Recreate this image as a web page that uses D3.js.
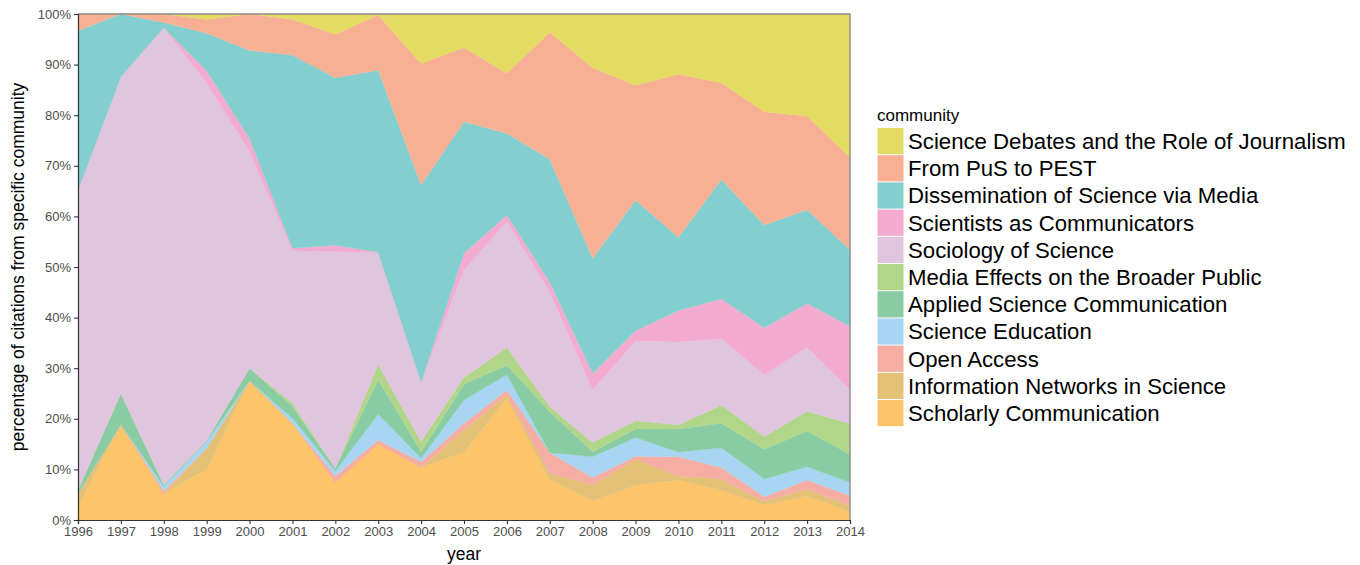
<!DOCTYPE html>
<html>
<head>
<meta charset="utf-8">
<script src="https://cdn.jsdelivr.net/npm/d3@7"></script>
<style>
  body { margin: 0; background: #fff; }
  svg { display: block; font-family: "Liberation Sans", Arial, sans-serif; }
</style>
</head>
<body>
<svg id="chart" width="1360" height="565"></svg>
<script>
// ---- data (percent of citations per community, per year) ----
const years = [1996,1997,1998,1999,2000,2001,2002,2003,2004,2005,2006,2007,2008,2009,2010,2011,2012,2013,2014];
const scholarlyCommunication = [2.6,18.9,5.2,10.0,27.5,19.1,7.4,15.0,10.4,13.4,24.0,8.0,3.8,6.8,7.9,5.9,3.0,4.7,1.6];
const informationNetworks    = [2.7,0,0,4.2,0,0,0,0,0,4.4,0.7,1.2,3.1,5.2,0.8,2.2,0.7,1.4,1.2];
const openAccess             = [0,0,0.6,0,0,0,1.3,0.8,1.1,1.3,1.0,4.1,1.5,0.6,3.8,2.3,0.9,1.8,2.0];
const scienceEducation       = [0,0,0.8,1.3,0,1.0,1.0,5.1,0.7,4.6,3.0,0,4.1,3.7,0.9,3.9,3.5,2.6,2.6];
const appliedSciComm         = [0.6,6.1,0.3,0.2,2.5,2.3,0.5,6.8,1.3,3.2,1.9,8.1,1.0,1.7,4.6,4.8,5.9,7.1,5.6];
const mediaEffects           = [0,0,0,0,0,0.7,0,3.1,2.0,1.3,3.5,1.0,1.8,1.6,0.8,3.6,2.5,3.9,6.0];
const sociologyOfScience     = [59.3,62.6,90.4,70.6,42.8,30.1,42.8,22.1,11.8,21.2,24.9,22.6,10.4,15.8,16.4,13.1,12.2,12.6,6.7];
const scientistsAsComm       = [0,0,0,2.5,2.6,0.5,1.3,0,0,3.3,1.3,2.0,3.3,2.0,6.2,7.9,9.3,8.7,12.6];
const disseminationMedia     = [31.5,12.4,1.0,7.4,17.4,38.2,33.1,36.0,38.9,26.0,16.1,24.3,22.7,25.8,14.5,23.6,20.3,18.5,15.1];
const pusToPest              = [3.3,0,1.7,2.7,7.2,7.0,8.6,10.9,24.0,14.7,11.9,25.1,37.7,22.7,32.2,19.1,22.4,18.5,18.3];
const scienceDebates         = [0,0,0,1.1,0,1.1,4.0,0.2,9.8,6.6,11.7,3.6,10.6,14.1,11.9,13.6,19.3,20.2,28.3];

// bottom-to-top stacking order
const communities = [
  "Scholarly Communication",
  "Information Networks in Science",
  "Open Access",
  "Science Education",
  "Applied Science Communication",
  "Media Effects on the Broader Public",
  "Sociology of Science",
  "Scientists as Communicators",
  "Dissemination of Science via Media",
  "From PuS to PEST",
  "Science Debates and the Role of Journalism"
];
const seriesValues = [scholarlyCommunication, informationNetworks, openAccess, scienceEducation,
  appliedSciComm, mediaEffects, sociologyOfScience, scientistsAsComm, disseminationMedia,
  pusToPest, scienceDebates];
const colors = ["#FDC46A","#E3C177","#F6ADA4","#A7D5F2","#89CCA4","#B1D589","#E0C5DE","#F3ACCF","#83CFCF","#F8B094","#E3DB62"];
const yTicks = [0,0.1,0.2,0.3,0.4,0.5,0.6,0.7,0.8,0.9,1.0];

// ---- build table ----
const table = years.map((y, i) => {
  const row = { year: y };
  communities.forEach((c, k) => row[c] = seriesValues[k][i]);
  return row;
});

const svg = d3.select("#chart");
const m = { left: 78, right: 850, top: 14, bottom: 520 };

const x = d3.scaleLinear().domain([1996, 2014]).range([m.left, m.right]);
const y = d3.scaleLinear().domain([0, 1]).range([m.bottom, m.top]);
const color = d3.scaleOrdinal().domain(communities).range(colors);

const stack = d3.stack().keys(communities).offset(d3.stackOffsetExpand);
const layers = stack(table);

const area = d3.area()
  .x(d => x(d.data.year))
  .y0(d => y(d[0]))
  .y1(d => y(d[1]));

svg.append("g").selectAll("path")
  .data(layers)
  .join("path")
  .attr("d", area)
  .attr("fill", d => color(d.key))
  .attr("stroke", d => color(d.key))
  .attr("stroke-width", 0.3);

// panel border (top/right gray)
svg.append("path")
  .attr("d", `M${m.left},${m.top}H${m.right}V${m.bottom}`)
  .attr("fill", "none").attr("stroke", "#8c8c8c").attr("stroke-width", 1.4);

// axes
const yAxis = d3.axisLeft(y).tickValues(yTicks).tickFormat(d3.format(".0%")).tickSize(4).tickPadding(3);
const xAxis = d3.axisBottom(x).tickValues(years).tickFormat(d3.format("d")).tickSize(4).tickPadding(3);

const gy = svg.append("g").attr("transform", `translate(${m.left},0)`).call(yAxis);
const gx = svg.append("g").attr("transform", `translate(0,${m.bottom})`).call(xAxis);
[gy, gx].forEach(g => {
  g.select(".domain").attr("stroke", "#333").attr("stroke-width", 1.2);
  g.selectAll(".tick line").attr("stroke", "#333").attr("stroke-width", 1.1);
  g.selectAll(".tick text").attr("fill", "#4D4D4D").style("font-size", "13px").style("font-family", "Liberation Sans, Arial, sans-serif");
});

// axis titles
svg.append("text")
  .attr("transform", `translate(24,${(m.top + m.bottom) / 2}) rotate(-90)`)
  .attr("text-anchor", "middle")
  .style("font-size", "17.5px").attr("fill", "#000")
  .text("percentage of citations from specific community");
svg.append("text")
  .attr("x", (m.left + m.right) / 2).attr("y", 560)
  .attr("text-anchor", "middle")
  .style("font-size", "17.5px").attr("fill", "#000")
  .text("year");

// legend
const legend = svg.append("g");
legend.append("text").attr("x", 877).attr("y", 121)
  .style("font-size", "17px").attr("fill", "#000").text("community");
const legendOrder = communities.slice().reverse();
const keyH = 27.2, keyTop = 127.5;
legendOrder.forEach((c, i) => {
  const yy = keyTop + i * keyH;
  legend.append("rect").attr("x", 877.5).attr("y", yy + 0.5)
    .attr("width", 26).attr("height", keyH - 1)
    .attr("fill", color(c));
  legend.append("text").attr("x", 908).attr("y", yy + keyH / 2)
    .attr("dy", "0.36em")
    .style("font-size", "22.2px").attr("fill", "#000")
    .text(c);
});
</script>
</body>
</html>
